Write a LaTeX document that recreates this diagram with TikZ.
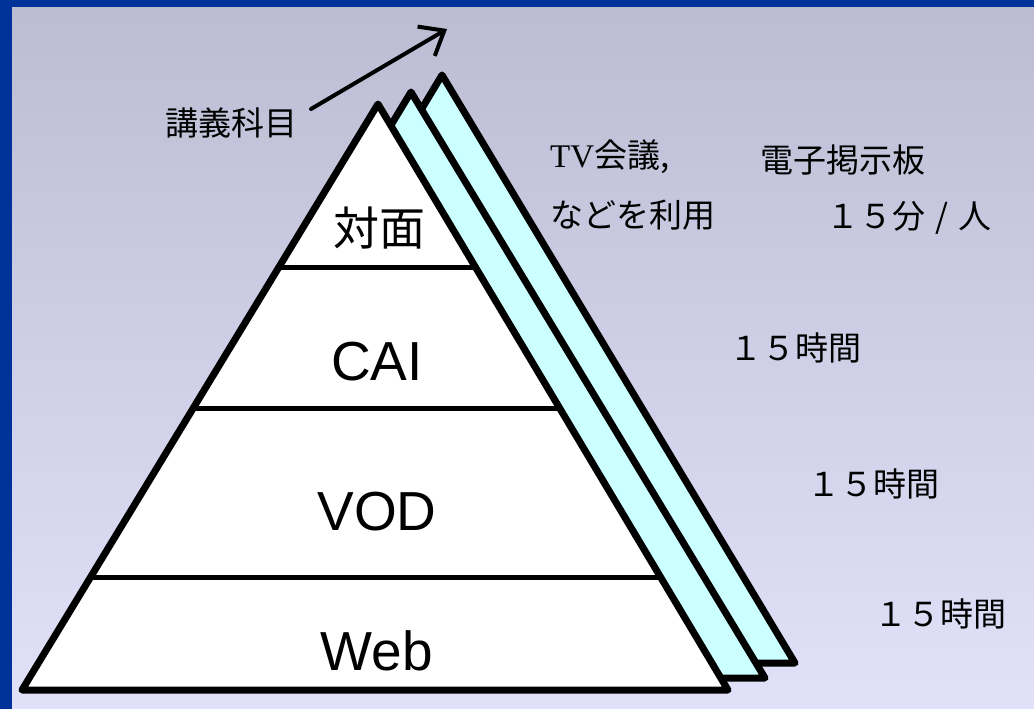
\documentclass[tikz,border=0pt]{standalone}
\usepackage{fontspec}
\setmainfont{Liberation Sans}
\newfontfamily\cjk{Noto Sans CJK JP}
\newfontfamily\serifL{Liberation Serif}
\usetikzlibrary{arrows.meta}
\definecolor{frameblue}{HTML}{003399}
\definecolor{bgtop}{HTML}{BCBCD3}
\definecolor{bgbot}{HTML}{E1E1FA}
\definecolor{sheet}{HTML}{CCFFFF}
\tikzset{
  tri/.style={draw=black, line width=7pt, line join=round},
  small/.style={inner sep=0pt, font=\cjk\fontsize{33}{36}\selectfont},
  layer/.style={inner sep=0pt, font=\fontsize{55}{60}\selectfont},
}
\begin{document}
\begin{tikzpicture}[x=1pt,y=-1pt]
\useasboundingbox (0,0) rectangle (1034,709);
% background
\fill[frameblue] (0,0) rectangle (1034,709);
\shade[top color=bgtop, bottom color=bgbot] (12,8) rectangle (1034,709);
% back sheets
\filldraw[tri, fill=sheet] (442,75) -- (795,663) -- (89,663) -- cycle;
\filldraw[tri, fill=sheet] (411,92) -- (765,678) -- (57,678) -- cycle;
% main pyramid
\fill[white] (378,104) -- (728,690) -- (22,690) -- cycle;
\begin{scope}
  \clip (378,104) -- (728,690) -- (22,690) -- cycle;
  \draw[line width=5pt] (0,267) -- (1034,267);
  \draw[line width=5pt] (0,408) -- (1034,408);
  \draw[line width=5pt] (0,577) -- (1034,577);
\end{scope}
\draw[tri] (378,104) -- (728,690) -- (22,690) -- cycle;
% layer labels
\node[small, font=\cjk\fontsize{46}{50}\selectfont] (taimen) at (379,228) {対面};
\node[layer] (cai) at (377,362) {CAI};
\node[layer] (vod) at (377,512) {VOD};
\node[layer] (web) at (377,651) {Web};
% subject label and arrow
\node[small, anchor=west] (kougi) at (165,123) {講義科目};
\coordinate (arrS) at (311,109);
\coordinate (arrE) at (447,29);
\draw[line width=4pt, line cap=round, -{Straight Barb[length=21pt,width=34pt,line width=4pt]}] (arrS) -- (arrE);
% right texts
\node[small, anchor=west] (tv) at (550,157) {{\serifL TV}会議,};
\node[small, anchor=west] (nado) at (550,215) {などを利用};
\node[small, anchor=west] (denshi) at (760,160) {電子掲示板};
\node[small, anchor=east] (fun) at (992,218) {１５分\makebox[1em]{/}人};
\node[small, anchor=east] (h1) at (862,348) {１５時間};
\node[small, anchor=east] (h2) at (940,484) {１５時間};
\node[small, anchor=east] (h3) at (1007,614) {１５時間};
\end{tikzpicture}
\end{document}
